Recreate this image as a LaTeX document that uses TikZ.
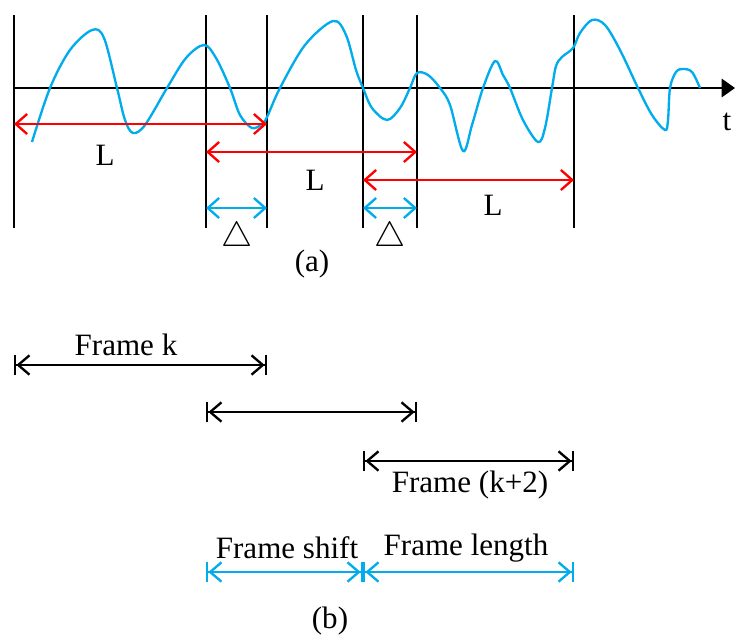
\documentclass[tikz,border=0pt]{standalone}
\usepackage{fontspec}
\setmainfont{Liberation Serif}
\usetikzlibrary{arrows.meta}

\definecolor{sigblue}{RGB}{0,172,236}
\definecolor{lenred}{RGB}{255,0,0}

\begin{document}
\begin{tikzpicture}[x=0.03cm, y=-0.03cm,
  font=\fontsize{26.5}{30}\selectfont,
  grid/.style={line width=2pt},
  span/.style={line width=2pt, {Straight Barb[length=3.4mm,width=6mm]}-{Straight Barb[length=3.4mm,width=6mm]}},
  framebar/.style={line width=2pt, {Bar[width=6.2mm,sep=0pt]Straight Barb[length=3.4mm,width=5.8mm]}-{Straight Barb[length=3.4mm,width=5.8mm]Bar[width=6.2mm,sep=0pt]}},
  sig/.style={sigblue, line width=2pt},
  lbl/.style={inner sep=0pt}
]
  \useasboundingbox (0,0) rectangle (735,637);

  % (a) signal and frame boundaries
  \foreach \x [count=\i] in {14,206,267,363,417,574} {
    \coordinate (t\i) at (\x,15);
    \coordinate (b\i) at (\x,228);
    \draw[grid] (t\i) -- (b\i);
  }
  \coordinate (ax0) at (14,88);
  \coordinate (ax1) at (735,88);
  \draw[grid, -{Triangle[length=4mm,width=5.5mm]}] (ax0) -- (ax1);
  \node[lbl] (tlab) at (727,122) {t};

  \draw[sig] plot[smooth, tension=0.55] coordinates {
    (32,142) (50,88) (70,50) (92,30) (104,38) (117,88) (125,120) (133,133)
    (145,125) (167,88) (186,58) (204,45) (216,58) (230,88) (240,115) (252,128)
    (262,124) (267,117) (280,88) (305,45) (333,21) (346,35) (356,70) (363,88)
    (372,108) (387,120) (400,108) (410,88) (417,73) (428,75) (440,88) (450,105)
    (463,151) (472,125) (483,88) (495,61) (503,75) (510,88) (523,120) (538,142)
    (545,128) (552,88) (556,66) (562,57) (573,48) (580,33) (592,20) (605,25)
    (620,50) (638,88) (652,115) (665,130) (668,120) (670,88) (676,72) (683,69)
    (692,72) (700,88)};

  \coordinate (row1) at (0,124);
  \coordinate (row2) at (0,152);
  \coordinate (row3) at (0,180);
  \coordinate (row4) at (0,208);
  \draw[span, lenred] (t1 |- row1) -- (t3 |- row1);
  \draw[span, lenred] (t2 |- row2) -- (t5 |- row2);
  \draw[span, lenred] (t4 |- row3) -- (t6 |- row3);
  \draw[span, sigblue] (t2 |- row4) -- (t3 |- row4);
  \draw[span, sigblue] (t4 |- row4) -- (t5 |- row4);

  \node[lbl] (L1) at (105,155) {L};
  \node[lbl] (L2) at (315,180) {L};
  \node[lbl] (L3) at (493,205) {L};
  \node[lbl, scale=1.2] (d1) at (237,238) {$\triangle$};
  \node[lbl, scale=1.2] (d2) at (390,238) {$\triangle$};
  \node[lbl] (capa) at (312,264) {(a)};

  % (b) frames
  \coordinate (fk) at (0,365);
  \coordinate (fk1) at (0,412);
  \coordinate (fk2) at (0,461);
  \coordinate (fs) at (0,572);
  \draw[framebar] (t1 |- fk) -- (t3 |- fk);
  \draw[framebar] (t2 |- fk1) -- (t5 |- fk1);
  \draw[framebar] (t4 |- fk2) -- (t6 |- fk2);
  \draw[framebar, sigblue] (t2 |- fs) -- (t4 |- fs);
  \draw[framebar, sigblue] (t4 |- fs) -- (t6 |- fs);

  \node[lbl] (lk) at (126,345) {Frame k};
  \node[lbl] (lk2) at (470,485) {Frame (k+2)};
  \node[lbl] (lshift) at (287,548) {Frame shift};
  \node[lbl] (llen) at (466,548) {Frame length};
  \node[lbl] (capb) at (330,621) {(b)};
\end{tikzpicture}
\end{document}
